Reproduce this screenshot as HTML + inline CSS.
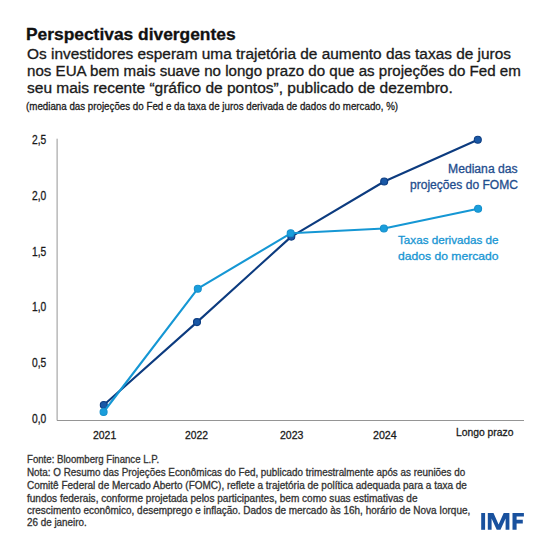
<!DOCTYPE html>
<html><head><meta charset="utf-8">
<style>
html,body{margin:0;padding:0;background:#ffffff;}
body{width:550px;height:550px;position:relative;overflow:hidden;font-family:"Liberation Sans",sans-serif;}
.t{position:absolute;white-space:nowrap;-webkit-text-stroke:0.3px currentColor;line-height:1.1172;transform-origin:0 0;}
svg{position:absolute;left:0;top:0;}
#imf{position:absolute;font-weight:700;color:#1a4f9c;white-space:nowrap;transform-origin:0 0;}
</style></head><body>
<svg width="550" height="550" viewBox="0 0 550 550">
<line x1="57.1" y1="138.7" x2="57.1" y2="420.5" stroke="#959595" stroke-width="1"/>
<line x1="57" y1="420.5" x2="524" y2="420.5" stroke="#959595" stroke-width="1"/>
<polyline points="103.8,405.0 197.0,322.1 291.3,236.6 384.2,181.5 477.8,139.7" fill="none" stroke="#0c3b7f" stroke-width="2.1" stroke-linejoin="round"/>
<g fill="#1a58a6" stroke="#0d3d82" stroke-width="1.1"><circle cx="103.8" cy="405.0" r="3.5"/><circle cx="197.0" cy="322.1" r="3.5"/><circle cx="291.3" cy="236.6" r="3.5"/><circle cx="384.2" cy="181.5" r="3.5"/><circle cx="477.8" cy="139.7" r="3.5"/></g>
<polyline points="103.6,412.0 197.8,288.7 290.7,233.3 383.9,228.5 478.1,208.8" fill="none" stroke="#1597d4" stroke-width="2.1" stroke-linejoin="round"/>
<g fill="#1a9edc" stroke="#1590cc" stroke-width="1.1"><circle cx="103.6" cy="412.0" r="3.5"/><circle cx="197.8" cy="288.7" r="3.5"/><circle cx="290.7" cy="233.3" r="3.5"/><circle cx="383.9" cy="228.5" r="3.5"/><circle cx="478.1" cy="208.8" r="3.5"/></g>
<g id="imf" fill="#19519e">
<rect x="481.2" y="513" width="3.9" height="16.8"/>
<polygon points="487.8,529.8 487.8,513 493.5,513 498.6,524.5 503.7,513 509.4,513 509.4,529.8 505.6,529.8 505.6,518.5 500.5,529.8 496.7,529.8 491.6,518.5 491.6,529.8"/>
<polygon points="512.5,513 523.9,513 523.9,516.6 516.6,516.6 516.6,519.8 522.8,519.8 522.8,523.4 516.6,523.4 516.6,529.8 512.5,529.8"/>
</g>
</svg>
<div id="title" class="t" style="left:25.91px;top:25.11px;font-size:17px;font-weight:700;color:#111111;transform:scaleX(1.0221)">Perspectivas divergentes</div>
<div id="s1" class="t" style="left:27.31px;top:46.93px;font-size:14px;font-weight:400;color:#1a1a1a;transform:scaleX(1.1009)">Os investidores esperam uma trajetória de aumento das taxas de juros</div>
<div id="s2" class="t" style="left:27.00px;top:63.53px;font-size:14px;font-weight:400;color:#1a1a1a;transform:scaleX(1.0790)">nos EUA bem mais suave no longo prazo do que as projeções do Fed em</div>
<div id="s3" class="t" style="left:26.54px;top:80.83px;font-size:14px;font-weight:400;color:#1a1a1a;transform:scaleX(1.1076)">seu mais recente “gráfico de pontos”, publicado de dezembro.</div>
<div id="sm" class="t" style="left:26.31px;top:99.84px;font-size:11px;font-weight:400;color:#1a1a1a;transform:scaleX(0.8871)">(mediana das projeções do Fed e da taxa de juros derivada de dados do mercado, %)</div>
<div id="y25" class="t" style="left:31.58px;top:134.14px;font-size:12px;font-weight:400;color:#1a1a1a;transform:scaleX(0.8526)">2,5</div>
<div id="y20" class="t" style="left:31.58px;top:189.84px;font-size:12px;font-weight:400;color:#1a1a1a;transform:scaleX(0.8526)">2,0</div>
<div id="y15" class="t" style="left:31.58px;top:245.64px;font-size:12px;font-weight:400;color:#1a1a1a;transform:scaleX(0.8526)">1,5</div>
<div id="y10" class="t" style="left:31.58px;top:301.34px;font-size:12px;font-weight:400;color:#1a1a1a;transform:scaleX(0.8526)">1,0</div>
<div id="y05" class="t" style="left:31.58px;top:357.04px;font-size:12px;font-weight:400;color:#1a1a1a;transform:scaleX(0.8526)">0,5</div>
<div id="y00" class="t" style="left:31.58px;top:412.74px;font-size:12px;font-weight:400;color:#1a1a1a;transform:scaleX(0.8526)">0,0</div>
<div id="x21" class="t" style="left:92.54px;top:428.99px;font-size:11.5px;font-weight:400;color:#1a1a1a;transform:scaleX(0.9079)">2021</div>
<div id="x22" class="t" style="left:185.38px;top:428.99px;font-size:11.5px;font-weight:400;color:#1a1a1a;transform:scaleX(0.8962)">2022</div>
<div id="x23" class="t" style="left:279.62px;top:428.99px;font-size:11.5px;font-weight:400;color:#1a1a1a;transform:scaleX(0.9140)">2023</div>
<div id="x24" class="t" style="left:372.77px;top:428.99px;font-size:11.5px;font-weight:400;color:#1a1a1a;transform:scaleX(0.9275)">2024</div>
<div id="xlp" class="t" style="left:455.54px;top:426.44px;font-size:11px;font-weight:400;color:#1a1a1a;transform:scaleX(0.9386)">Longo prazo</div>
<div id="m1" class="t" style="left:448.45px;top:162.64px;font-size:12px;font-weight:400;color:#1f4e8e;transform:scaleX(1.0135)">Mediana das</div>
<div id="m2" class="t" style="left:409.76px;top:179.44px;font-size:12px;font-weight:400;color:#1f4e8e;transform:scaleX(1.0057)">projeções do FOMC</div>
<div id="t1" class="t" style="left:398.23px;top:233.59px;font-size:11.5px;font-weight:400;color:#1896d3;transform:scaleX(1.0149)">Taxas derivadas de</div>
<div id="t2" class="t" style="left:397.53px;top:249.89px;font-size:11.5px;font-weight:400;color:#1896d3;transform:scaleX(1.0553)">dados do mercado</div>
<div id="f1" class="t" style="left:27.00px;top:454.15px;font-size:10px;font-weight:400;color:#333333;transform:scaleX(0.9633)">Fonte: Bloomberg Finance L.P.</div>
<div id="f2" class="t" style="left:27.00px;top:466.75px;font-size:10px;font-weight:400;color:#333333;transform:scaleX(0.9854)">Nota: O Resumo das Projeções Econômicas do Fed, publicado trimestralmente após as reuniões do</div>
<div id="f3" class="t" style="left:27.00px;top:479.85px;font-size:10px;font-weight:400;color:#333333;transform:scaleX(0.9993)">Comitê Federal de Mercado Aberto (FOMC), reflete a trajetória de política adequada para a taxa de</div>
<div id="f4" class="t" style="left:27.00px;top:492.55px;font-size:10px;font-weight:400;color:#333333;transform:scaleX(1.0036)">fundos federais, conforme projetada pelos participantes, bem como suas estimativas de</div>
<div id="f5" class="t" style="left:27.00px;top:504.75px;font-size:10px;font-weight:400;color:#333333;transform:scaleX(0.9955)">crescimento econômico, desemprego e inflação. Dados de mercado às 16h, horário de Nova Iorque,</div>
<div id="f6" class="t" style="left:27.00px;top:517.25px;font-size:10px;font-weight:400;color:#333333;transform:scaleX(0.9851)">26 de janeiro.</div>

</body></html>
